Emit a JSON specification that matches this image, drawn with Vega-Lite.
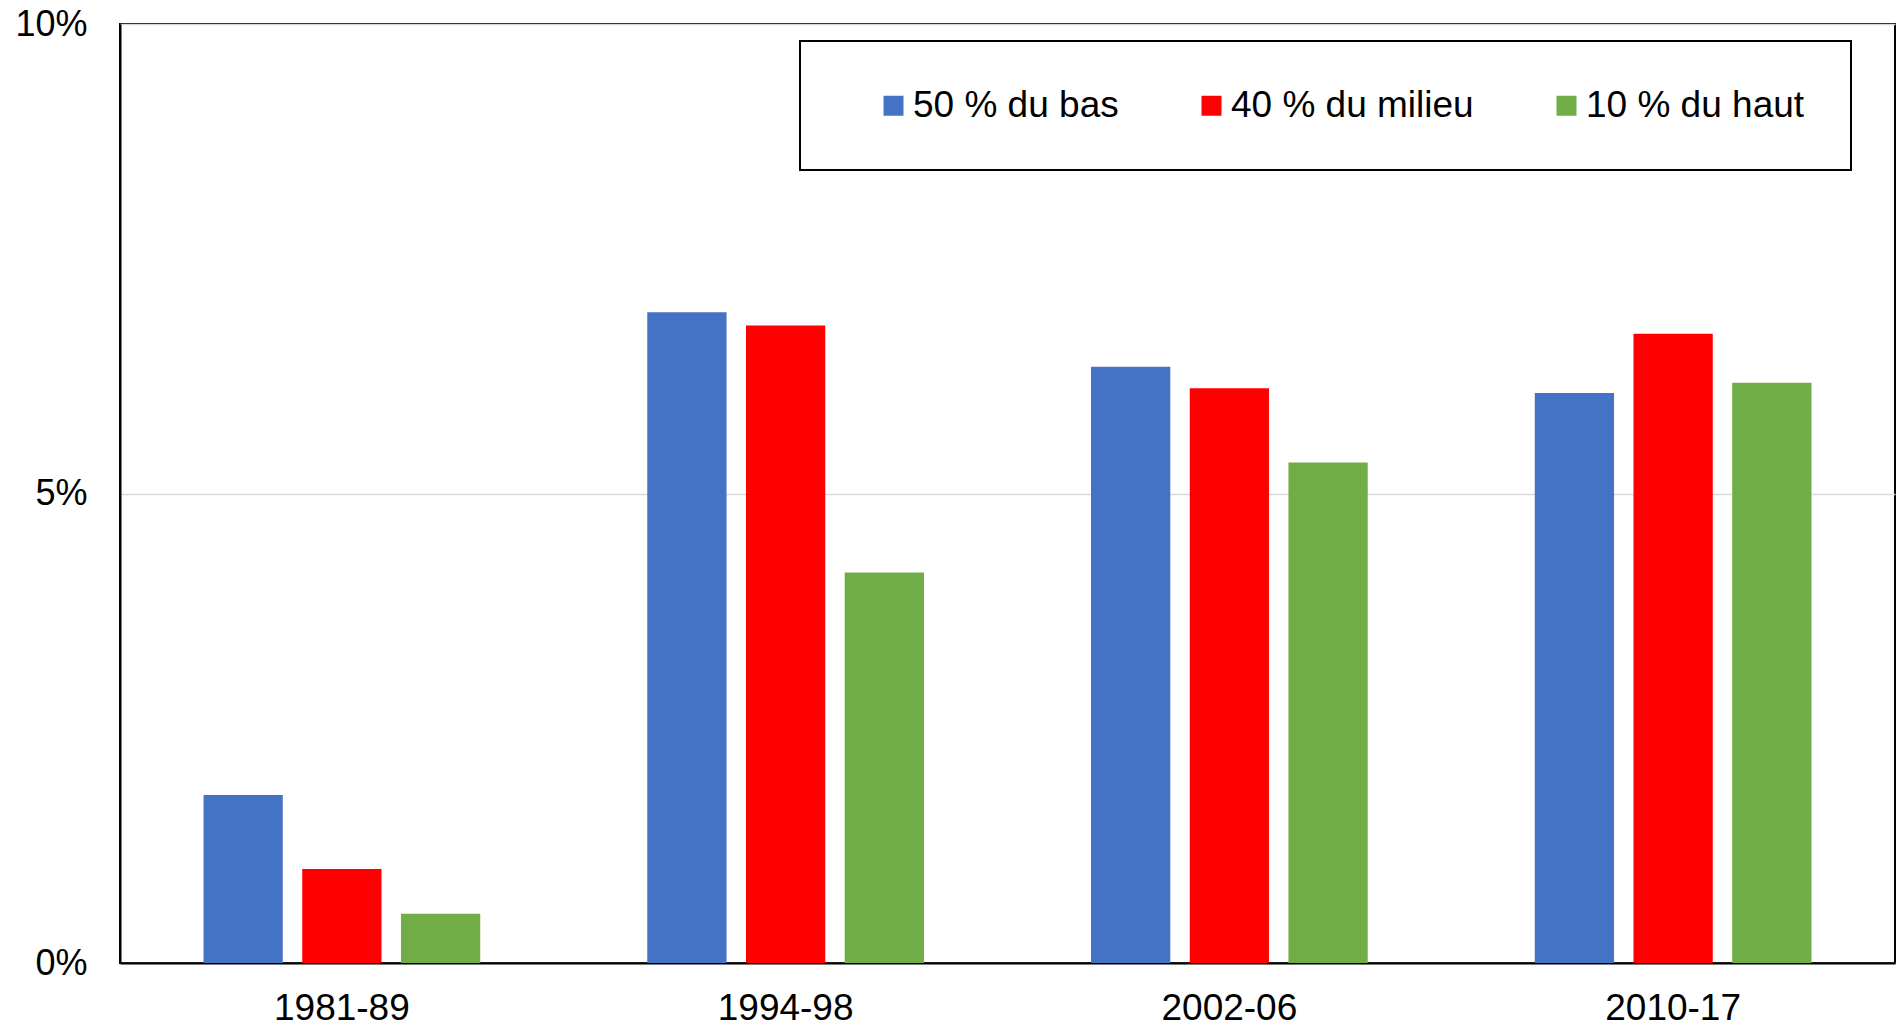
{
  "$schema": "https://vega.github.io/schema/vega-lite/v6.json",
  "width": 1775,
  "height": 939,
  "autosize": "none",
  "padding": {"left": 120, "top": 24, "right": 1, "bottom": 62},
  "background": "white",
  "config": {
    "view": {"stroke": "black", "strokeWidth": 2},
    "font": "Liberation Sans"
  },
  "data": {
    "values": [
      {"period": "1981-89", "group": "50 % du bas", "value": 1.79},
      {"period": "1981-89", "group": "40 % du milieu", "value": 1.0},
      {"period": "1981-89", "group": "10 % du haut", "value": 0.525},
      {"period": "1994-98", "group": "50 % du bas", "value": 6.93},
      {"period": "1994-98", "group": "40 % du milieu", "value": 6.79},
      {"period": "1994-98", "group": "10 % du haut", "value": 4.16},
      {"period": "2002-06", "group": "50 % du bas", "value": 6.35},
      {"period": "2002-06", "group": "40 % du milieu", "value": 6.12},
      {"period": "2002-06", "group": "10 % du haut", "value": 5.33},
      {"period": "2010-17", "group": "50 % du bas", "value": 6.07},
      {"period": "2010-17", "group": "40 % du milieu", "value": 6.70},
      {"period": "2010-17", "group": "10 % du haut", "value": 6.18}
    ]
  },
  "mark": {"type": "bar"},
  "encoding": {
    "x": {
      "field": "period",
      "type": "nominal",
      "sort": null,
      "scale": {"paddingInner": 0, "paddingOuter": 0},
      "axis": {
        "title": null,
        "labelAngle": 0,
        "labelFontSize": 37,
        "labelColor": "black",
        "labelPadding": 27,
        "labelBound": false,
        "labelOverlap": false,
        "ticks": false,
        "tickSize": 0,
        "domainColor": "black",
        "domainWidth": 2,
        "grid": false
      }
    },
    "xOffset": {
      "field": "group",
      "type": "nominal",
      "sort": ["50 % du bas", "40 % du milieu", "10 % du haut"],
      "scale": {"paddingInner": 0.197, "paddingOuter": 0.846}
    },
    "y": {
      "field": "value",
      "type": "quantitative",
      "scale": {"domain": [0, 10], "nice": false},
      "axis": {
        "title": null,
        "values": [0, 5, 10],
        "labelExpr": "datum.value + '%'",
        "labelFontSize": 36,
        "labelColor": "black",
        "labelPadding": 33,
        "ticks": false,
        "tickSize": 0,
        "domainColor": "black",
        "domainWidth": 2,
        "gridColor": "#d9d9d9",
        "gridWidth": 1.5
      }
    },
    "color": {
      "field": "group",
      "type": "nominal",
      "scale": {
        "domain": ["50 % du bas", "40 % du milieu", "10 % du haut"],
        "range": ["#4472C4", "#FF0000", "#70AD47"]
      },
      "legend": {
        "title": null,
        "orient": "none",
        "legendX": 680,
        "legendY": 17,
        "direction": "horizontal",
        "columns": 3,
        "symbolType": "square",
        "symbolSize": 400,
        "symbolStrokeWidth": 0,
        "symbolOpacity": 1,
        "symbolOffset": 29,
        "labelOffset": 1,
        "labelFontSize": 37,
        "labelColor": "black",
        "labelLimit": 600,
        "columnPadding": 45,
        "padding": 46,
        "strokeColor": "black",
        "fillColor": "white",
        "encode": {"legend": {"update": {"strokeWidth": {"value": 2}}}}
      }
    }
  }
}
